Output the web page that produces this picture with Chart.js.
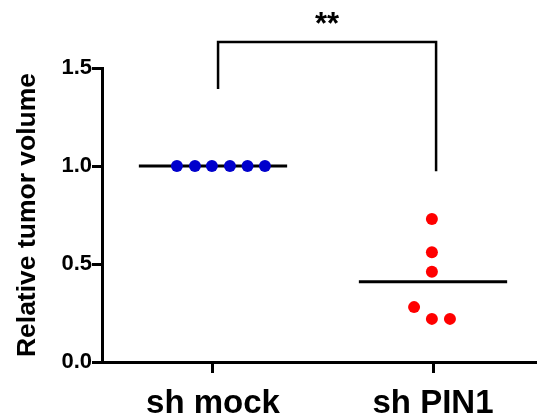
<!DOCTYPE html>
<html>
<head>
<meta charset="utf-8">
<script src="https://cdn.jsdelivr.net/npm/chart.js@4/dist/chart.umd.min.js"></script>
<style>
  body { margin: 0; background: #fff; }
  #wrap { width: 537px; height: 420px; }
</style>
</head>
<body>
<div id="wrap"><canvas id="myChart" width="537" height="420"></canvas></div>
<script>
// categorias y datos
const categories = ['sh mock', 'sh PIN1'];
const yTicks = [0, 0.5, 1.0, 1.5];
const mockX = [0.836, 0.918, 0.995, 1.077, 1.157, 1.236];
const mockY = [1.0, 1.0, 1.0, 1.0, 1.0, 1.0];
const pin1X = [1.995, 1.995, 1.995, 1.914, 1.995, 2.077];
const pin1Y = [0.73, 0.56, 0.46, 0.28, 0.22, 0.22];
const means = [1.0, 0.41];
const signif = '**';

const font = 'Liberation Sans, Arial, Helvetica, sans-serif';

const toPoints = (xs, ys) => xs.map((x, i) => ({x: x, y: ys[i]}));

// lineas de la media
const meanLine = (c, m) => [{x: c - 0.337, y: m}, {x: c + 0.337, y: m}];

// corchete de significancia
const bracket = [
  {x: 1.023, y: 1.393},
  {x: 1.023, y: 1.633},
  {x: 2.014, y: 1.633},
  {x: 2.014, y: 0.973}
];

const starPlugin = {
  id: 'stars',
  afterDatasetsDraw(chart) {
    const {ctx, scales} = chart;
    const x = scales.x.getPixelForValue((bracket[0].x + bracket[3].x) / 2);
    const y = scales.y.getPixelForValue(1.633);
    ctx.save();
    ctx.fillStyle = '#000';
    ctx.font = 'bold 31px ' + font;
    ctx.textAlign = 'center';
    ctx.textBaseline = 'alphabetic';
    ctx.fillText(signif, x, y - 8);
    ctx.restore();
  }
};

const grafica = document.getElementById('myChart');
const myChart = new Chart(grafica, {
  type: 'scatter',
  data: {
    datasets: [
      {
        data: toPoints(mockX, mockY),
        backgroundColor: 'rgb(0,0,204)',
        borderWidth: 0,
        pointRadius: 6,
        order: 1
      },
      {
        data: toPoints(pin1X, pin1Y),
        backgroundColor: 'rgb(255,0,0)',
        borderWidth: 0,
        pointRadius: 6,
        order: 1
      },
      {
        type: 'line',
        data: meanLine(1, means[0]),
        borderColor: '#000',
        borderWidth: 3,
        pointRadius: 0,
        order: 2
      },
      {
        type: 'line',
        data: meanLine(2, means[1]),
        borderColor: '#000',
        borderWidth: 3,
        pointRadius: 0,
        order: 2
      },
      {
        type: 'line',
        data: bracket,
        borderColor: '#000',
        borderWidth: 2.5,
        pointRadius: 0,
        clip: false
      }
    ]
  },
  options: {
    responsive: false,
    animation: false,
    layout: { autoPadding: false, padding: { top: 68, right: 0, left: 0, bottom: 0 } },
    plugins: {
      legend: { display: false },
      tooltip: { enabled: false }
    },
    scales: {
      x: {
        type: 'linear',
        min: 0.4955,
        max: 2.4727,
        afterBuildTicks: axis => { axis.ticks = [{value: 1}, {value: 2}]; },
        afterFit: axis => { axis.height = 58; },
        ticks: {
          color: '#000',
          font: { family: font, size: 33, weight: 'bold' },
          padding: 11,
          callback: v => categories[v - 1]
        },
        grid: {
          display: true,
          drawOnChartArea: false,
          drawTicks: true,
          tickLength: 11,
          color: '#000',
          lineWidth: 3
        },
        border: { display: true, color: '#000', width: 3 }
      },
      y: {
        min: 0,
        max: 1.5,
        afterBuildTicks: axis => { axis.ticks = yTicks.map(v => ({value: v})); },
        afterFit: axis => { axis.width = 102; },
        ticks: {
          color: '#000',
          font: { family: font, size: 22, weight: 'bold' },
          padding: 0,
          callback: v => v.toFixed(1)
        },
        grid: {
          display: true,
          drawOnChartArea: false,
          drawTicks: true,
          tickLength: 10,
          color: '#000',
          lineWidth: 3
        },
        border: { display: true, color: '#000', width: 3 },
        title: {
          display: true,
          text: 'Relative tumor volume',
          color: '#000',
          font: { family: font, size: 26.5, weight: 'bold' },
          padding: { top: 12, bottom: 0 }
        }
      }
    }
  },
  plugins: [starPlugin]
});
</script>
</body>
</html>
